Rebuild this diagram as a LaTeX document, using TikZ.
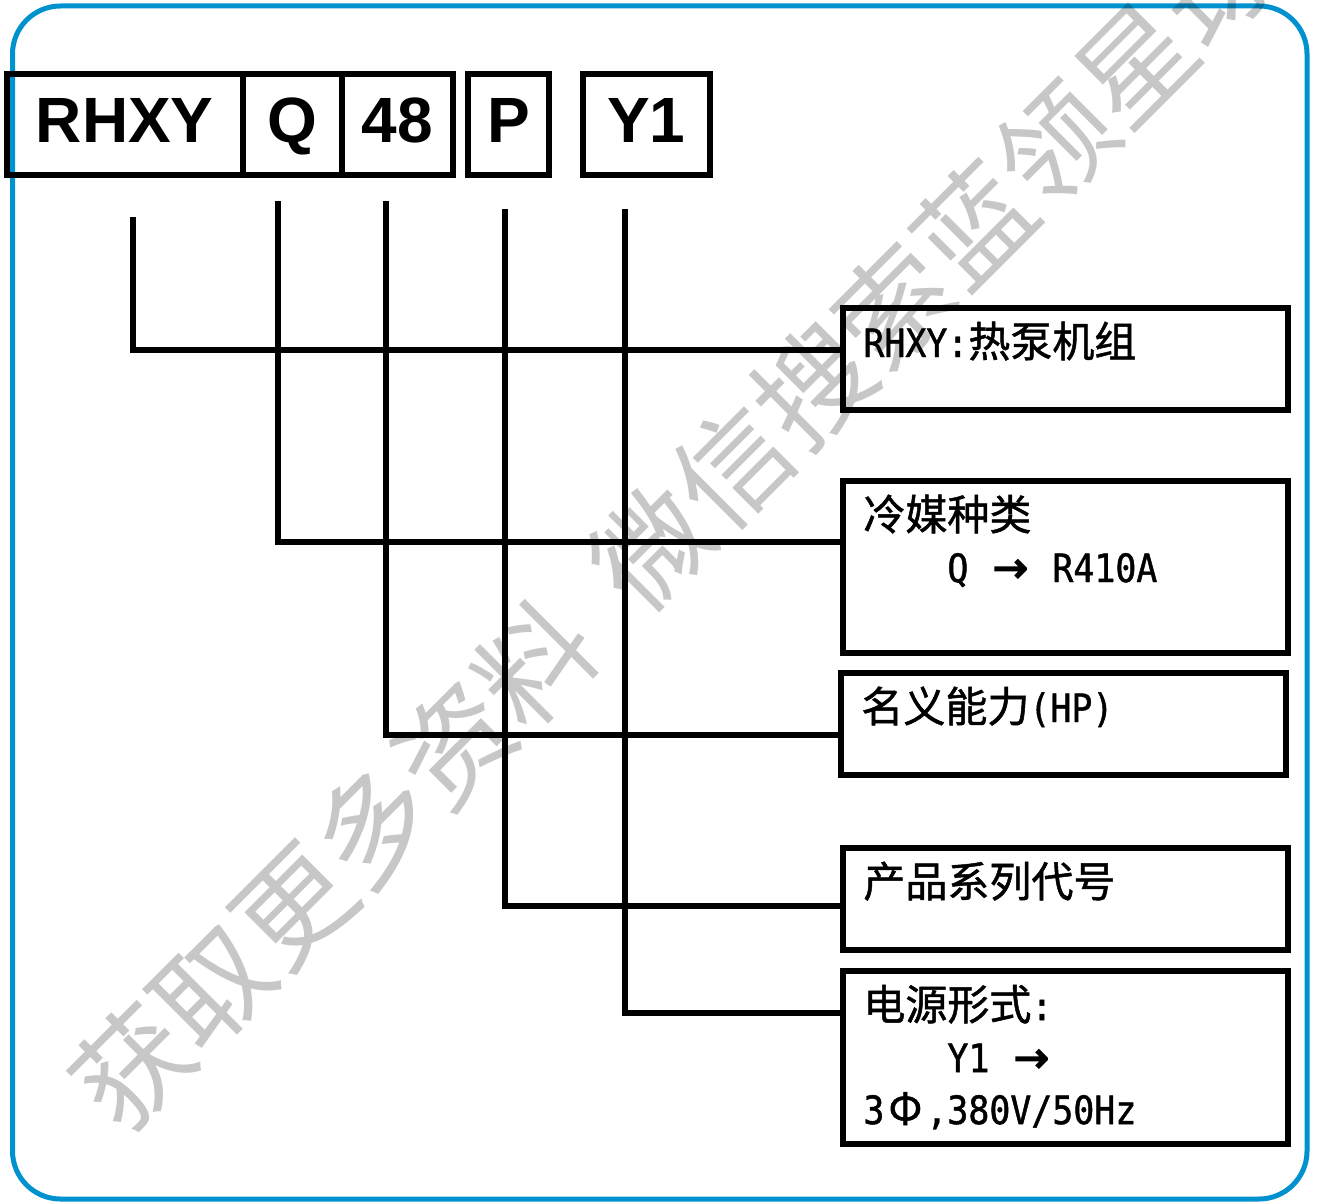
\documentclass[tikz,border=0pt]{standalone}
\usepackage{fontspec}
\setmainfont{Liberation Sans}
\newfontfamily\cjk{Noto Sans CJK SC}[FakeBold=1.2]
\newfontfamily\cjkw{Noto Sans CJK SC}
\newfontfamily\latn{DejaVu Sans Mono}[FakeStretch=0.894,Scale=0.9286,FakeBold=1.2]
\newfontfamily\arw{DejaVu Sans}[FakeBold=4]
\newcommand\lat[1]{{\latn #1}}
\newcommand\hw{\hspace*{0.5em}}
\newcommand\fw[1]{\makebox[1em]{#1}}
\newcommand\toarr{\fw{\arw →}}
\definecolor{frameblue}{RGB}{0,146,207}
\tikzset{
  codebox/.style={draw, line width=3pt, outer sep=0pt, inner sep=0pt, minimum height=50.5pt,
    text height=18.5pt, text depth=0pt, font=\bfseries\fontsize{32}{38}\selectfont},
  descbox/.style={draw, line width=2.6pt, outer sep=0pt, inner sep=0pt, minimum width=222.5pt},
  desctext/.style={anchor=base west, align=left, inner sep=0pt, font=\cjk\fontsize{21}{26}\selectfont},
  link/.style={line width=2.7pt}
}

\begin{document}
\begin{tikzpicture}[x=0.5pt, y=-0.5pt]
\useasboundingbox (0,0) rectangle (1320,1203);
\draw [frameblue, line width=2.5pt, rounded corners=24pt] (12.5,6) rectangle (1307,1199);

% model code
\node [codebox, minimum width=117.75pt] (rhxy) at (124.75,124.5) {RHXY};
\node [codebox, minimum width=49.5pt] (q) at (292,124.5) {Q};
\node [codebox, minimum width=55.75pt] (cap) at (397.25,124.5) {48};
\node [codebox, minimum width=40.5pt] (ser) at (508.5,124.5) {P};
\node [codebox, minimum width=63.25pt] (pwr) at (646.25,124.5) {Y1};

% meaning of each part
\node [descbox, minimum height=51pt] (dunit) at (1065.5,359) {};
\node [descbox, minimum height=86pt] (dref) at (1065.5,567) {};
\node [descbox, minimum height=51pt] (dcap) at (1063.5,724) {};
\node [descbox, minimum height=51pt] (dser) at (1065.5,899) {};
\node [descbox, minimum height=86.5pt] (dpwr) at (1065.5,1057.5) {};

% base anchor sits on the last line
\node [desctext] (tunit) at ([shift={(20,49)}]dunit.north west) {\lat{RHXY:}热泵机组};
\node [desctext] (tref) at ([shift={(20,101)}]dref.north west)
  {冷媒种类\\\hspace*{2em}\lat{Q}\hw\toarr\hw\lat{R410A}};
\node [desctext] (tcap) at ([shift={(20,49)}]dcap.north west) {名义能力\lat{(HP)}};
\node [desctext] (tser) at ([shift={(20,49)}]dser.north west) {产品系列代号};
\node [desctext] (tpwr) at ([shift={(20,153)}]dpwr.north west)
  {电源形式\lat{:}\\\hspace*{2em}\lat{Y1}\hw\toarr\\\lat{3}\fw{Φ}\lat{,380V/50Hz}};

% leaders
\coordinate (v1) at (133,217);
\coordinate (v2) at (278,201);
\coordinate (v3) at (386,201);
\coordinate (v4) at (505,209);
\coordinate (v5) at (625,209);
\draw [link] (v1) |- ([yshift=4.5pt]dunit.west);
\draw [link] (v2) |- ([yshift=12.5pt]dref.west);
\draw [link] (v3) |- ([yshift=-5.5pt]dcap.west);
\draw [link] (v4) |- ([yshift=-3.5pt]dser.west);
\draw [link] (v5) |- ([yshift=22.25pt]dpwr.west);

% watermark
\node [rotate=45, text opacity=0.22, inner sep=0pt, font=\cjkw\fontsize{57}{57}\selectfont] (wm) at (674,525)
  {获取更多资料\hspace{0.45em}微信搜索蓝领星球};
\end{tikzpicture}
\end{document}
